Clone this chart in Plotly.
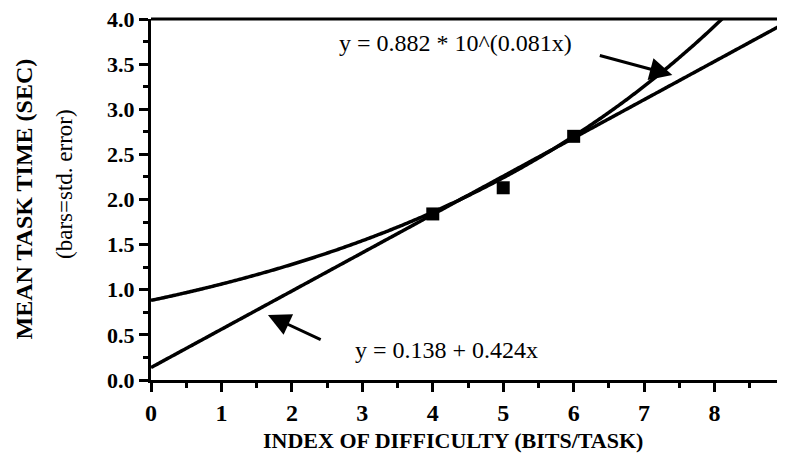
import numpy as np
import plotly.graph_objects as go

# observed mean task times
id_bits = [4, 5, 6]
mean_time = [1.84, 2.13, 2.70]

# fitted models printed on the chart
lin_a, lin_b = 0.138, 0.424
exp_a, exp_b = 0.882, 0.081

x_ticks = [0, 1, 2, 3, 4, 5, 6, 7, 8, 9]
y_ticks = [0.0, 0.5, 1.0, 1.5, 2.0, 2.5, 3.0, 3.5, 4.0]

xs = np.linspace(0, 9, 400)
y_lin = lin_a + lin_b * xs
y_exp = exp_a * 10 ** (exp_b * xs)

serif = "Liberation Serif, Times New Roman, serif"

fig = go.Figure()
fig.add_trace(go.Scatter(x=xs, y=y_lin, mode="lines",
                         line=dict(color="black", width=3.5, simplify=False)))
fig.add_trace(go.Scatter(x=xs, y=y_exp, mode="lines",
                         line=dict(color="black", width=3.5, simplify=False)))
fig.add_trace(go.Scatter(x=id_bits, y=mean_time, mode="markers",
                         marker=dict(symbol="square", size=13, color="black")))

# arrows pointing at the two fits
fig.add_annotation(x=7.40, y=3.38, ax=6.35, ay=3.60, xref="x", yref="y",
                   axref="x", ayref="y", text="", showarrow=True,
                   arrowhead=2, arrowsize=1.5, arrowwidth=3, arrowcolor="black")
fig.add_annotation(x=1.66, y=0.72, ax=2.43, ay=0.44, xref="x", yref="y",
                   axref="x", ayref="y", text="", showarrow=True,
                   arrowhead=2, arrowsize=1.5, arrowwidth=3, arrowcolor="black")

fig.add_annotation(x=4.32, y=3.73, text="y = 0.882 * 10^(0.081x)", showarrow=False,
                   font=dict(family=serif, size=24, color="black"))
fig.add_annotation(x=4.20, y=0.33, text="y = 0.138 + 0.424x", showarrow=False,
                   font=dict(family=serif, size=24, color="black"))

# axis titles
fig.add_annotation(x=0, y=0.5, xref="paper", yref="paper", xshift=-128,
                   xanchor="center", yanchor="middle",
                   text="<b>MEAN TASK TIME (SEC)</b>", textangle=-90, showarrow=False,
                   font=dict(family=serif, size=24, color="black"))
fig.add_annotation(x=0, y=0.543, xref="paper", yref="paper", xshift=-86,
                   xanchor="center", yanchor="middle",
                   text="(bars=std. error)", textangle=-90, showarrow=False,
                   font=dict(family=serif, size=23, color="black"))
fig.add_annotation(x=0.476, y=0, xref="paper", yref="paper", yshift=-60,
                   xanchor="center", yanchor="middle",
                   text="<b>INDEX OF DIFFICULTY (BITS/TASK)</b>", showarrow=False,
                   font=dict(family=serif, size=22, color="black"))

fig.update_xaxes(range=[0, 9], tickvals=x_ticks, ticks="outside", ticklen=9,
                 tickwidth=3, tickcolor="black", showline=True, linewidth=3,
                 linecolor="black", showgrid=False, zeroline=False, automargin=False,
                 ticklabeloverflow="allow",
                 tickfont=dict(family=serif, size=24, color="black", weight="bold"),
                 minor=dict(dtick=0.5, ticks="outside", ticklen=5, tickwidth=3,
                            tickcolor="black", showgrid=False))
fig.update_yaxes(range=[0, 4], tickvals=y_ticks, ticktext=[f"{v:.1f}" for v in y_ticks],
                 ticks="outside", ticklen=9, tickwidth=3, tickcolor="black",
                 showline=True, linewidth=3, linecolor="black", showgrid=False,
                 zeroline=False, automargin=False, ticklabeloverflow="allow",
                 tickfont=dict(family=serif, size=22, color="black", weight="bold"),
                 minor=dict(dtick=0.25, ticks="outside", ticklen=5, tickwidth=3,
                            tickcolor="black", showgrid=False))

# top frame line
fig.add_shape(type="line", xref="paper", yref="paper", x0=0, x1=1, y0=1, y1=1,
              line=dict(color="black", width=3))

# the page adds an 8px body margin, so margins are reduced by 8px to compensate
fig.update_layout(width=785, height=458, margin=dict(l=143, r=8, t=11, b=86),
                  paper_bgcolor="white", plot_bgcolor="white", showlegend=False)

fig.write_html("out.html")
